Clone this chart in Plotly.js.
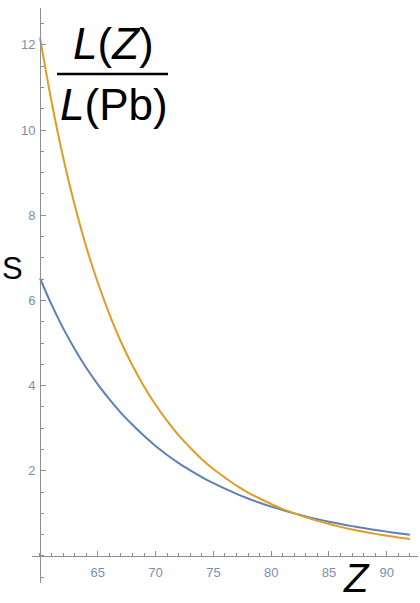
<!DOCTYPE html>
<html>
<head>
<meta charset="utf-8">
<script src="https://cdn.plot.ly/plotly-3.0.1.min.js"></script>
<style>
html,body{margin:0;padding:0;background:#fff;overflow:hidden;}
#chart{width:420px;height:603px;}
</style>
</head>
<body>
<div id="chart"></div>
<script>
// Z values (atomic number)
const zValues = [60,61,62,63,64,65,66,67,68,69,70,71,72,73,74,75,76,77,78,79,80,81,82,83,84,85,86,87,88,89,90,91,92];
// blue curve (lower start)
const blueSeries = [6.52,5.90,5.35,4.86,4.42,4.03,3.68,3.36,3.08,2.82,2.58,2.37,2.18,2.01,1.85,1.71,1.58,1.46,1.35,1.25,1.16,1.08,1.00,0.93,0.865,0.806,0.751,0.701,0.655,0.612,0.572,0.535,0.501];
// orange curve (higher start)
const orangeSeries = [12.17,10.67,9.36,8.24,7.26,6.42,5.68,5.03,4.47,3.98,3.55,3.17,2.83,2.54,2.27,2.04,1.84,1.65,1.49,1.35,1.22,1.10,1.00,0.908,0.825,0.750,0.683,0.623,0.568,0.519,0.475,0.435,0.398];
// tick labels
const xTickVals = [65,70,75,80,85,90];
const yTickVals = [2,4,6,8,10,12];

// layout geometry (pixels)
const W = 420, H = 603;
const mL = 32, mR = 2, mT = 8, mB = 20;
const plotW = W - mL - mR, plotH = H - mT - mB;
const px = x => (x - mL) / plotW;
const py = y => (H - mB - y) / plotH;

const axisColor = '#8f8f8f';
const tickFontColor = '#7a8eb0';

const traces = [
  {x: zValues, y: blueSeries, type: 'scatter', mode: 'lines',
   line: {color: '#5e81b5', width: 2, shape: 'spline'}, hoverinfo: 'skip'},
  {x: zValues, y: orangeSeries, type: 'scatter', mode: 'lines',
   line: {color: '#e19c24', width: 2, shape: 'spline'}, hoverinfo: 'skip'}
];

const xMin = 59.31, xMax = 92.70, yMin = -0.634, yMax = 12.864;

const layout = {
  width: W, height: H,
  margin: {l: mL, r: mR, t: mT, b: mB, pad: 0},
  paper_bgcolor: '#ffffff', plot_bgcolor: '#ffffff',
  showlegend: false,
  xaxis: {
    range: [xMin, xMax], anchor: 'free', position: (0 - yMin) / (yMax - yMin),
    showgrid: false, zeroline: false,
    showline: true, linecolor: axisColor, linewidth: 1,
    tickmode: 'array', tickvals: xTickVals,
    ticks: 'inside', ticklen: 5, tickwidth: 1, tickcolor: axisColor,
    ticklabelstandoff: 4,
    tickfont: {family: 'Liberation Sans, Arial, sans-serif', size: 13, color: tickFontColor},
    minor: {tick0: 0, dtick: 1, ticks: 'inside', ticklen: 3, tickwidth: 1, tickcolor: axisColor, showgrid: false}
  },
  yaxis: {
    range: [yMin, yMax], anchor: 'free', position: (60 - xMin) / (xMax - xMin),
    showgrid: false, zeroline: false,
    showline: true, linecolor: axisColor, linewidth: 1,
    tickmode: 'array', tickvals: yTickVals,
    ticks: 'inside', ticklen: 5, tickwidth: 1, tickcolor: axisColor,
    ticklabelstandoff: 2,
    tickfont: {family: 'Liberation Sans, Arial, sans-serif', size: 13, color: tickFontColor},
    minor: {tick0: 0, dtick: 0.5, ticks: 'inside', ticklen: 3, tickwidth: 1, tickcolor: axisColor, showgrid: false}
  },
  shapes: [
    {type: 'line', xref: 'paper', yref: 'paper', x0: px(57), x1: px(168), y0: py(74), y1: py(74),
     line: {color: '#000', width: 2.5}}
  ],
  annotations: [
    {xref: 'paper', yref: 'paper', x: px(113), y: py(44), xanchor: 'center', yanchor: 'middle',
     text: '<i>L</i>(<i>Z</i>)', showarrow: false,
     font: {family: 'Liberation Sans, Arial, sans-serif', size: 44, color: '#000'}},
    {xref: 'paper', yref: 'paper', x: px(113.5), y: py(104), xanchor: 'center', yanchor: 'middle',
     text: '<i>L</i>(Pb)', showarrow: false,
     font: {family: 'Liberation Sans, Arial, sans-serif', size: 44, color: '#000'}},
    {xref: 'paper', yref: 'paper', x: px(12), y: py(268), xanchor: 'center', yanchor: 'middle',
     text: 'S', showarrow: false,
     font: {family: 'Liberation Sans, Arial, sans-serif', size: 31, color: '#000'}},
    {xref: 'paper', yref: 'paper', x: px(356), y: py(602), xanchor: 'center', yanchor: 'bottom',
     text: '<i>Z</i>', showarrow: false,
     font: {family: 'Liberation Sans, Arial, sans-serif', size: 40, color: '#000'}}
  ]
};

Plotly.newPlot('chart', traces, layout, {staticPlot: true, displayModeBar: false});
</script>
</body>
</html>
